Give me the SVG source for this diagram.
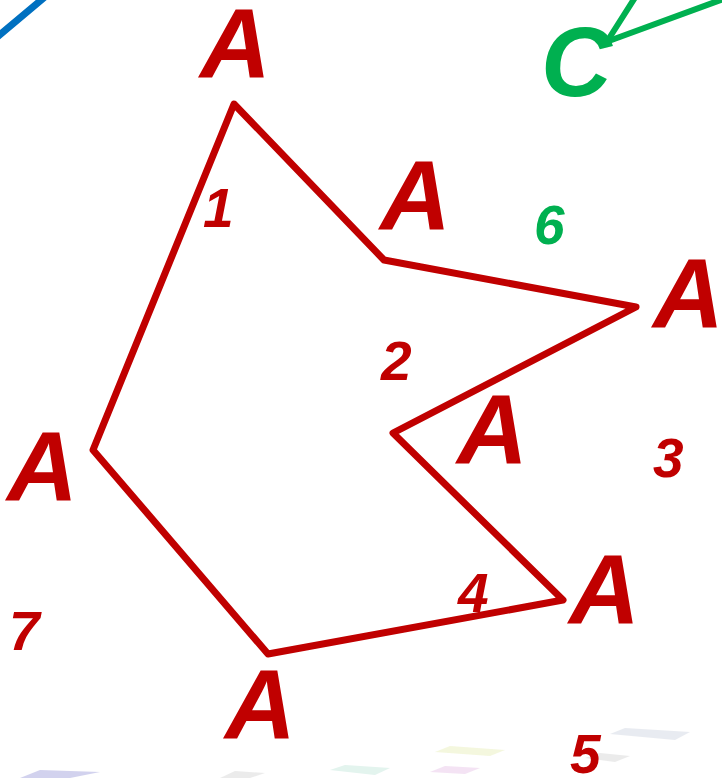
<svg xmlns="http://www.w3.org/2000/svg" width="722" height="778" viewBox="0 0 722 778">
<style>
.a{font-family:"Liberation Sans",Arial,sans-serif;font-weight:bold;font-style:italic;font-size:98px;fill:#c00000}
.n{font-family:"Liberation Sans",Arial,sans-serif;font-weight:bold;font-style:italic;font-size:55px;fill:#c00000}
.g{fill:#00b050}
</style>
<rect width="722" height="778" fill="#fff"/>
<g id="shadows" opacity="0.35">
<polygon points="20,778 40,770 100,772 70,778" fill="#8080d0"/>
<polygon points="220,778 235,771 265,773 250,778" fill="#c8c8c8"/>
<polygon points="330,770 345,765 390,768 375,775" fill="#b0e0d0"/>
<polygon points="435,752 450,746 505,750 490,756" fill="#e0e8a0"/>
<polygon points="430,772 445,766 480,768 465,774" fill="#e0b0e0"/>
<polygon points="610,734 625,728 690,732 675,740" fill="#c0c8d8"/>
<polygon points="585,758 600,753 630,756 615,762" fill="#c8c8c8"/>
</g>
<g id="connectors" fill="none" stroke-linecap="round">
<polygon id="poly" points="234,104 384,260 636,307 393,433 563,600 268,654 93,450" stroke="#c00000" stroke-width="7" stroke-linejoin="round"/>
<line x1="-4" y1="38" x2="46" y2="-4" stroke="#0070c0" stroke-width="7"/>
<line x1="636" y1="-4" x2="608" y2="40" stroke="#00b050" stroke-width="6"/>
<line x1="726" y1="-2" x2="606" y2="42" stroke="#00b050" stroke-width="6"/>
</g>
<g id="labels">
<text class="a" x="200" y="77">A</text>
<text class="a" x="380" y="229">A</text>
<text class="a" x="653" y="327">A</text>
<text class="a" x="457" y="463">A</text>
<text class="a" x="7" y="500">A</text>
<text class="a" x="569" y="623">A</text>
<text class="a" x="225" y="738">A</text>
<text class="a g" x="541" y="96">C</text>
<text class="n" x="203" y="227">1</text>
<text class="n g" x="534" y="244">6</text>
<text class="n" x="381" y="380">2</text>
<text class="n" x="653" y="477">3</text>
<text class="n" x="458" y="612">4</text>
<text class="n" x="9" y="650">7</text>
<text class="n" x="570" y="773">5</text>
</g>
</svg>
